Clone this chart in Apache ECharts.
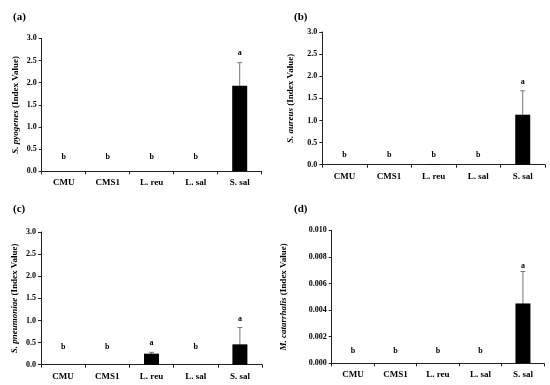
<!DOCTYPE html>
<html>
<head>
<meta charset="utf-8">
<script src="https://cdn.jsdelivr.net/npm/echarts@6/dist/echarts.min.js"></script>
<style>html,body{margin:0;padding:0;background:#fff}#c{width:550px;height:385px}</style>
</head>
<body>
<div id="c"></div>
<script>
const categories = ['CMU', 'CMS1', 'L. reu', 'L. sal', 'S. sal'];

const pyogenesMean = [0, 0, 0, 0, 1.93];
const pyogenesErr = [0, 0, 0, 0, 0.52];
const pyogenesLetters = ['b', 'b', 'b', 'b', 'a'];

const aureusMean = [0, 0, 0.01, 0, 1.13];
const aureusErr = [0, 0, 0, 0, 0.54];
const aureusLetters = ['b', 'b', 'b', 'b', 'a'];

const pneumoniaeMean = [0, 0, 0.25, 0, 0.46];
const pneumoniaeErr = [0, 0, 0.03, 0, 0.38];
const pneumoniaeLetters = ['b', 'b', 'a', 'b', 'a'];

const catarrhalisMean = [0, 0, 0, 0, 0.0045];
const catarrhalisErr = [0, 0, 0, 0, 0.0024];
const catarrhalisLetters = ['b', 'b', 'b', 'b', 'a'];

const panelTags = ['(a)', '(b)', '(c)', '(d)'];
const speciesNames = ['S. pyogenes', 'S. aureus', 'S. pneumoniae', 'M. catarrhalis'];

const FONT = '"Liberation Serif", "DejaVu Serif", serif';

const panels = [
  { mean: pyogenesMean, err: pyogenesErr, letters: pyogenesLetters, max: 3, interval: 0.5, dec: 1,
    grid: { left: 41.7, top: 38.3, width: 220, height: 133 }, gap: 22, bOff: 14.5, aOff: 10, tag: [8, 13] },
  { mean: aureusMean, err: aureusErr, letters: aureusLetters, max: 3, interval: 0.5, dec: 1,
    grid: { left: 322.3, top: 32, width: 222.7, height: 132.7 }, gap: 27, bOff: 9.5, aOff: 9, tag: [289, 13] },
  { mean: pneumoniaeMean, err: pneumoniaeErr, letters: pneumoniaeLetters, max: 3, interval: 0.5, dec: 1,
    grid: { left: 41, top: 232, width: 221, height: 132.7 }, gap: 22, bOff: 18, aOff: 9, tag: [8, 205] },
  { mean: catarrhalisMean, err: catarrhalisErr, letters: catarrhalisLetters, max: 0.01, interval: 0.002, dec: 3,
    grid: { left: 331.7, top: 230.3, width: 212.5, height: 133 }, gap: 44, bOff: 12.5, aOff: 6, tag: [289, 205] }
];

const option = {
  animation: false,
  backgroundColor: '#fff',
  title: [], grid: [], xAxis: [], yAxis: [], series: []
};

panels.forEach((p, i) => {
  option.title.push({
    text: panelTags[i], left: p.tag[0], top: p.tag[1] - 6,
    textStyle: { fontFamily: FONT, fontWeight: 'bold', fontSize: 11, color: '#000' }
  });
  option.grid.push(Object.assign({ containLabel: false }, p.grid));
  option.xAxis.push({
    type: 'category', gridIndex: i, data: categories,
    axisLine: { lineStyle: { color: '#222', width: 1 } },
    axisTick: { show: true, interval: 0, length: 3, lineStyle: { color: '#222' } },
    axisLabel: { interval: 0, margin: 7, fontFamily: FONT, fontWeight: 'bold', fontSize: 9, color: '#000' }
  });
  option.yAxis.push({
    type: 'value', gridIndex: i, min: 0, max: p.max, interval: p.interval,
    name: '{i|' + speciesNames[i] + '} (Index Value)',
    nameLocation: 'middle', nameGap: p.gap,
    nameTextStyle: {
      fontFamily: FONT, fontWeight: 'bold', fontSize: 9, color: '#000',
      rich: { i: { fontFamily: FONT, fontWeight: 'bold', fontStyle: 'italic', fontSize: 9, color: '#000' } }
    },
    axisLine: { show: true, lineStyle: { color: '#222', width: 1 } },
    axisTick: { show: true, length: 3, lineStyle: { color: '#222' } },
    splitLine: { show: false },
    axisLabel: { margin: 5, fontFamily: FONT, fontWeight: 'bold', fontSize: 8, color: '#000',
      formatter: v => v.toFixed(p.dec) }
  });
  option.series.push({
    type: 'bar', xAxisIndex: i, yAxisIndex: i, data: p.mean, barWidth: 15,
    itemStyle: { color: '#000' }
  });
  option.series.push({
    type: 'custom', xAxisIndex: i, yAxisIndex: i,
    data: p.mean.map((m, k) => [k, m, p.err[k]]),
    renderItem: (params, api) => {
      const k = api.value(0), m = api.value(1), e = api.value(2);
      const children = [];
      if (e > 0) {
        const top = api.coord([k, m + e]);
        const bot = api.coord([k, m - e]);
        const cw = 2.5;
        const st = { stroke: '#777', lineWidth: 1 };
        children.push({ type: 'line', shape: { x1: top[0], y1: top[1], x2: bot[0], y2: bot[1] }, style: st });
        children.push({ type: 'line', shape: { x1: top[0] - cw, y1: top[1], x2: top[0] + cw, y2: top[1] }, style: st });
        children.push({ type: 'line', shape: { x1: bot[0] - cw, y1: bot[1], x2: bot[0] + cw, y2: bot[1] }, style: st });
      }
      const letter = p.letters[k];
      let pos;
      if (letter === 'a') {
        const t = api.coord([k, m + e]);
        pos = [t[0], t[1] - p.aOff];
      } else {
        const z = api.coord([k, 0]);
        pos = [z[0], z[1] - p.bOff];
      }
      children.push({
        type: 'text', x: pos[0], y: pos[1],
        style: { text: letter, fontFamily: FONT, fontWeight: 'bold', fontSize: 8, fill: '#000',
          align: 'center', verticalAlign: 'middle' }
      });
      return { type: 'group', children };
    }
  });
});

const chart = echarts.init(document.getElementById('c'), null, { renderer: 'canvas' });
chart.setOption(option);
</script>
</body>
</html>
